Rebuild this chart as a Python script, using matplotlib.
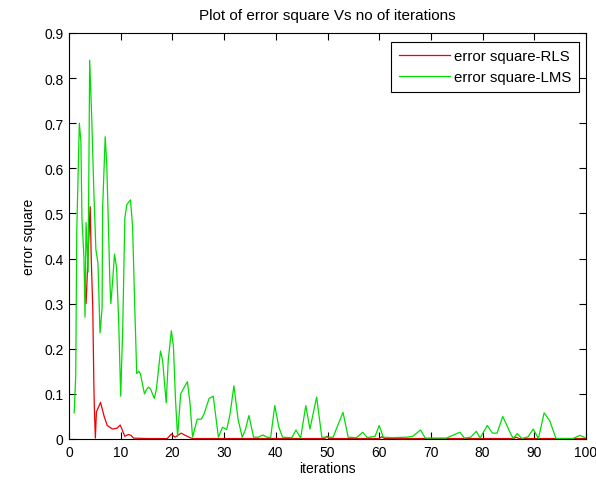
import matplotlib
matplotlib.use('Agg')
import matplotlib.pyplot as plt

# error square of the RLS filter (red)
rls_x = [3.0, 3.3, 3.7, 4.1, 4.3, 4.6, 4.8, 4.9, 5.1, 5.3, 6.1, 6.8, 7.4, 8.4, 9.3, 9.9,
         10.3, 10.8, 11.5, 12.0, 12.5, 15.0, 19.0, 19.8, 20.5, 21.7, 22.5, 23.8, 30.0,
         49.5, 49.9, 50.3, 60.0, 60.5, 61.0, 86.0, 86.5, 87.0, 100.0]
rls_y = [0.34, 0.30, 0.41, 0.515, 0.40, 0.29, 0.126, 0.07, 0.002, 0.06, 0.081, 0.05, 0.03,
         0.022, 0.024, 0.031, 0.02, 0.006, 0.01, 0.008, 0.002, 0.001, 0.001, 0.011, 0.004,
         0.013, 0.008, 0.001, 0.001, 0.001, 0.006, 0.001, 0.001, 0.005, 0.001, 0.001,
         0.004, 0.001, 0.001]

# error square of the LMS filter (green)
lms_x = [1.0, 1.3, 1.5, 2.0, 2.3, 2.5, 2.9, 3.1, 3.3, 3.7, 4.0, 4.4, 4.8, 5.2, 5.6, 6.0,
         6.4, 6.5, 7.0, 7.3, 7.7, 7.9, 8.1, 8.5, 8.8, 9.2, 9.6, 10.0, 10.4, 10.8, 11.2,
         11.9, 12.3, 12.7, 13.1, 13.5, 13.8, 14.6, 15.0, 15.4, 15.8, 16.5, 16.9, 17.7,
         18.1, 18.8, 19.2, 19.8, 20.2, 20.6, 21.0, 21.6, 22.3, 22.9, 23.4, 23.9, 24.8,
         25.6, 26.1, 27.1, 27.9, 28.9, 29.7, 30.5, 31.1, 31.9, 32.7, 33.5, 34.1, 34.8,
         35.7, 36.6, 37.5, 38.3, 39.0, 39.8, 40.6, 41.3, 43.1, 43.9, 44.8, 45.8, 46.6,
         47.9, 48.9, 51.1, 51.7, 53.0, 54.0, 55.6, 56.8, 57.7, 59.2, 60.0, 60.8, 62.5,
         65.3, 66.5, 68.0, 68.9, 71.8, 73.0, 75.6, 76.5, 77.7, 78.8, 79.5, 80.9, 81.9,
         82.8, 83.9, 85.3, 85.9, 86.7, 87.6, 88.8, 89.8, 90.8, 91.9, 93.0, 94.2, 97.5,
         98.8, 99.8]
lms_y = [0.058, 0.14, 0.46, 0.70, 0.66, 0.49, 0.40, 0.27, 0.48, 0.37, 0.84, 0.71, 0.55,
         0.42, 0.39, 0.235, 0.29, 0.51, 0.67, 0.61, 0.44, 0.35, 0.30, 0.36, 0.41, 0.38,
         0.265, 0.095, 0.25, 0.49, 0.52, 0.53, 0.47, 0.30, 0.145, 0.15, 0.145, 0.10, 0.11,
         0.115, 0.11, 0.09, 0.11, 0.195, 0.175, 0.08, 0.175, 0.24, 0.205, 0.087, 0.006,
         0.10, 0.115, 0.127, 0.08, 0.004, 0.044, 0.044, 0.055, 0.09, 0.095, 0.004, 0.026,
         0.021, 0.052, 0.118, 0.044, 0.004, 0.02, 0.052, 0.004, 0.004, 0.009, 0.004, 0.003,
         0.074, 0.026, 0.004, 0.003, 0.020, 0.002, 0.074, 0.022, 0.093, 0.004, 0.004,
         0.022, 0.059, 0.004, 0.003, 0.015, 0.003, 0.006, 0.03, 0.004, 0.003, 0.004, 0.006,
         0.02, 0.002, 0.002, 0.002, 0.015, 0.002, 0.004, 0.017, 0.002, 0.03, 0.013, 0.013,
         0.05, 0.015, 0.001, 0.012, 0.001, 0.005, 0.022, 0.001, 0.058, 0.04, 0.001, 0.001,
         0.008, 0.003]

x_ticks = list(range(0, 101, 10))
y_ticks = [0, 0.1, 0.2, 0.3, 0.4, 0.5, 0.6, 0.7, 0.8, 0.9]
y_labels = ['0', '0.1', '0.2', '0.3', '0.4', '0.5', '0.6', '0.7', '0.8', '0.9']

plt.rcParams['font.family'] = ['Liberation Sans', 'DejaVu Sans']
plt.rcParams['font.size'] = 10

fig = plt.figure(figsize=(5.96, 4.81), dpi=100)
ax = fig.add_axes([69 / 596, 41 / 481, 517 / 596, 406 / 481])

ax.plot(rls_x, rls_y, color='#ee0000', lw=0.9, label='error square-RLS')
ax.plot(lms_x, lms_y, color='#00dd00', lw=0.9, label='error square-LMS')

ax.set_xlim(0, 100)
ax.set_ylim(0, 0.9)
ax.set_xticks(x_ticks)
ax.set_yticks(y_ticks)
ax.set_yticklabels(y_labels)
ax.tick_params(direction='in', top=True, right=True, length=5, width=0.8, pad=4)
for s in ax.spines.values():
    s.set_linewidth(0.8)

ax.set_title('Plot of error square Vs no of iterations', pad=10, fontsize=11)
ax.set_xlabel('iterations', labelpad=2)
ax.set_ylabel('error square', labelpad=6)

leg = ax.legend(loc='upper right', bbox_to_anchor=(0.9865, 0.978), borderaxespad=0,
                fancybox=False, edgecolor='black', framealpha=1, fontsize=10.8,
                handlelength=3.4, borderpad=0.5, labelspacing=0.45, handletextpad=0.3)
leg.get_frame().set_linewidth(0.8)

fig.savefig('out.png', dpi=100)
